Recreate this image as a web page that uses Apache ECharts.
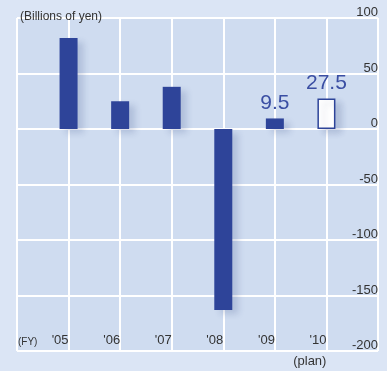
<!DOCTYPE html>
<html>
<head>
<meta charset="utf-8">
<script src="https://cdn.jsdelivr.net/npm/echarts@6/dist/echarts.min.js"></script>
<style>
  html, body { margin: 0; padding: 0; background: #dbe5f5; }
  #chart { width: 387px; height: 371px; }
</style>
</head>
<body>
<div id="chart"></div>
<script>
// Fiscal years (outer slots are empty so bars sit on the inner grid lines)
const categories = ['(FY)', "'05", "'06", "'07", "'08", "'09", "'10", ''];
// Net income, billions of yen ('10 is the plan figure)
const values = [null, 82, 25, 38, -163, 9.5, 27.5, null];
const labelledValues = { 5: '9.5', 6: '27.5' };
const planIndex = 6;
const yTicks = { min: -200, max: 100, step: 50 };

const barBlue = '#2e4499';
const textColor = '#333';

const chart = echarts.init(document.getElementById('chart'), null, { renderer: 'canvas' });

const xLabelData = categories.map((c, i) => i === 0
  ? { value: c, textStyle: { align: 'left', fontSize: 10, padding: [0, 0, 0, 1] } }
  : c);

const planLabelData = categories.map((c, i) => i === planIndex ? '(plan)' : '');

const barData = values.map((v, i) => {
  if (v === null) return null;
  const item = { value: v };
  if (i === planIndex) {
    item.itemStyle = { color: '#ffffff', borderColor: barBlue, borderWidth: 1.5 };
  }
  if (labelledValues[i] !== undefined) {
    item.label = {
      show: true,
      position: 'top',
      distance: 5,
      formatter: labelledValues[i],
      color: '#3a4ea3',
      fontSize: 21,
      fontFamily: 'Liberation Sans, Arial, sans-serif'
    };
  }
  return item;
});

chart.setOption({
  backgroundColor: '#dbe5f5',
  animation: false,
  title: {
    text: '(Billions of yen)',
    left: 15,
    top: 6,
    textStyle: { fontSize: 12, fontWeight: 'normal', color: textColor, fontFamily: 'Liberation Sans, Arial, sans-serif' }
  },
  grid: {
    left: 17, right: 9, top: 18, bottom: 20,
    show: true, backgroundColor: '#cfdcf0', borderWidth: 0
  },
  xAxis: [{
    type: 'category',
    data: xLabelData,
    boundaryGap: false,
    position: 'bottom',
    axisLine: { show: false },
    axisTick: { show: false },
    splitLine: { show: true, interval: 0, lineStyle: { color: '#ffffff', width: 2 } },
    axisLabel: {
      inside: true,
      interval: 0,
      margin: 4,
      align: 'right',
      verticalAlign: 'bottom',
      color: textColor,
      fontSize: 13,
      fontFamily: 'Liberation Sans, Arial, sans-serif'
    }
  }, {
    type: 'category',
    data: planLabelData,
    boundaryGap: false,
    position: 'bottom',
    axisLine: { show: false },
    axisTick: { show: false },
    splitLine: { show: false },
    axisLabel: {
      interval: 0,
      margin: 4,
      align: 'right',
      color: textColor,
      fontSize: 13,
      fontFamily: 'Liberation Sans, Arial, sans-serif'
    }
  }],
  yAxis: {
    type: 'value',
    position: 'right',
    min: yTicks.min,
    max: yTicks.max,
    interval: yTicks.step,
    axisLine: { show: false },
    axisTick: { show: false },
    splitLine: { show: true, lineStyle: { color: '#ffffff', width: 2 } },
    axisLabel: {
      inside: true,
      margin: 0,
      verticalAlign: 'bottom',
      padding: [0, 0, -1, 0],
      color: textColor,
      fontSize: 13,
      fontFamily: 'Liberation Sans, Arial, sans-serif'
    }
  },
  series: [{
    type: 'bar',
    xAxisIndex: 0,
    data: barData,
    barWidth: 18,
    itemStyle: {
      color: barBlue,
      shadowColor: 'rgba(40, 60, 120, 0.18)',
      shadowBlur: 6,
      shadowOffsetX: 6,
      shadowOffsetY: 4
    }
  }]
});
</script>
</body>
</html>
